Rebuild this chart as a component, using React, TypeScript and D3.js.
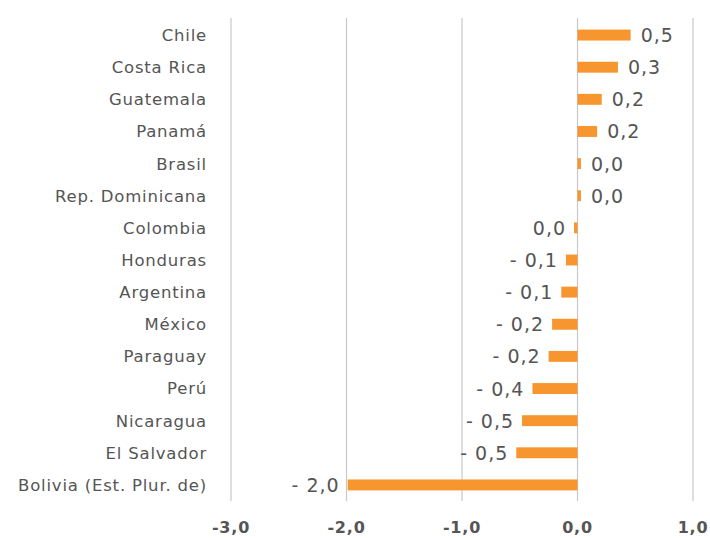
import React from "react";
import * as d3 from "d3";

const categories = [
  "Chile", "Costa Rica", "Guatemala", "Panamá", "Brasil", "Rep. Dominicana",
  "Colombia", "Honduras", "Argentina", "México", "Paraguay", "Perú",
  "Nicaragua", "El Salvador", "Bolivia (Est. Plur. de)",
];
const values = [0.46, 0.35, 0.21, 0.17, 0.03, 0.03, -0.03, -0.1, -0.14, -0.22, -0.25, -0.39, -0.48, -0.53, -1.99];
const labels = ["0,5", "0,3", "0,2", "0,2", "0,0", "0,0", "0,0", "- 0,1", "- 0,1", "- 0,2", "- 0,2", "- 0,4", "- 0,5", "- 0,5", "- 2,0"];
const ticks = [-3, -2, -1, 0, 1];
const tickLabels = ["-3,0", "-2,0", "-1,0", "0,0", "1,0"];

export default function App() {
  const W = 710, H = 538;
  const x = d3.scaleLinear().domain([-3, 1]).range([231, 693]);
  const y = d3.scaleBand<string>().domain(categories).range([19, 501]).paddingInner(0.66).paddingOuter(0.33);
  const font = "'DejaVu Sans', sans-serif";
  const textColor = "#555555";
  return (
    <svg width={W} height={H} style={{ position: "absolute", left: 0, top: 0, background: "#fff" }}>
      {ticks.map((t) => (
        <line key={t} x1={x(t)} x2={x(t)} y1={18} y2={501} stroke="#c8c8c8" strokeWidth={1.2} />
      ))}
      {categories.map((c, i) => {
        const v = values[i];
        const bx = Math.min(x(0), x(v));
        const bw = Math.abs(x(v) - x(0));
        const yc = (y(c) as number) + y.bandwidth() / 2;
        return (
          <g key={c}>
            <rect x={bx} y={y(c)} width={bw} height={y.bandwidth()} fill="#f7962e" />
            <text x={207} y={yc} dy="0.36em" textAnchor="end" fontFamily={font} fontSize={16.5} letterSpacing={0.8} fill={textColor}>{c}</text>
            <text
              x={v >= 0 ? x(v) + 10 : x(v) - 8}
              y={yc}
              dy="0.37em"
              textAnchor={v >= 0 ? "start" : "end"}
              fontFamily={font}
              fontSize={19}
              letterSpacing={1}
              fill={textColor}
            >{labels[i]}</text>
          </g>
        );
      })}
      {ticks.map((t, i) => (
        <text key={"t" + t} x={x(t)} y={527} dy="0.36em" textAnchor="middle" fontFamily={font} fontSize={16} letterSpacing={0.8} fontWeight={600} fill={textColor}>{tickLabels[i]}</text>
      ))}
    </svg>
  );
}
